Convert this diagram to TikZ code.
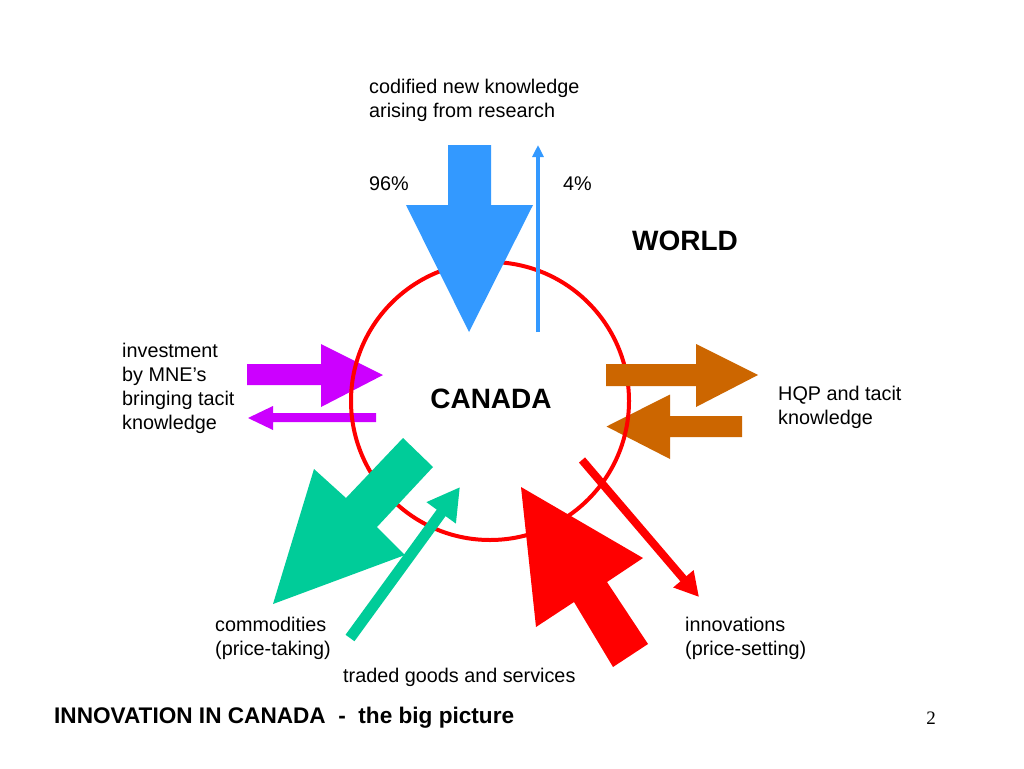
\documentclass[tikz,border=0pt]{standalone}
\usepackage{fontspec}
\setmainfont{Liberation Sans}
\newfontfamily\serifnum{Liberation Serif}
\usetikzlibrary{arrows.meta}
\definecolor{skyblue}{RGB}{51,153,255}
\definecolor{mneviolet}{RGB}{204,0,255}
\definecolor{hqporange}{RGB}{204,102,0}
\definecolor{tradegreen}{RGB}{0,204,153}
\definecolor{ringred}{RGB}{255,0,0}
\tikzset{
  lbl/.style={anchor=west, inner sep=0pt, align=left, font=\fontsize{19.8}{24}\selectfont},
  bigword/.style={anchor=center, inner sep=0pt, font=\fontsize{28}{32}\selectfont\bfseries}
}
\begin{document}
\begin{tikzpicture}[x=1pt,y=-1pt]
\useasboundingbox (0,0) rectangle (1024,768);
\fill[white] (0,0) rectangle (1024,768);

% magenta arrows (under the ring)
\fill[mneviolet] (247,364) -- (321,364) -- (321,344) -- (383,375) -- (321,407) -- (321,385) -- (247,385) -- cycle;
\fill[mneviolet] (376,413) -- (273,413) -- (273,406) -- (248,418) -- (273,430) -- (273,422) -- (376,422) -- cycle;
% small orange arrow (under the ring)
\fill[hqporange] (742,416) -- (670,416) -- (670,394.5) -- (606.5,426.5) -- (670,459) -- (670,437) -- (742,437) -- cycle;

% ring
\node[draw=ringred, line width=4pt, circle, minimum size=278pt, inner sep=0pt] (ring) at (490,401) {};

% big blue arrow
\fill[skyblue] (448,145) -- (491,145) -- (491,205) -- (533,205) -- (469,332) -- (406,205) -- (448,205) -- cycle;
% thin blue arrow
\coordinate (bluefrom) at (538,332);
\coordinate (blueto) at (538,145);
\draw[skyblue, line width=3.5pt, -{Triangle[length=12pt,width=11pt]}] (bluefrom) -- (blueto);

% big orange arrow
\fill[hqporange] (606,364) -- (696,364) -- (696,344) -- (758,375) -- (696,407) -- (696,386) -- (606,386) -- cycle;

% big green arrow
\fill[tradegreen] (403,438) -- (433,467) -- (377,527) -- (405,555) -- (273,604) -- (314,469) -- (346,498) -- cycle;
% thin green arrow
\coordinate (greenfrom) at (350,638);
\coordinate (greento) at (460,487);
\draw[tradegreen, line width=11pt, -{Triangle[length=32pt,width=34pt]}] (greenfrom) -- (greento);

% big red arrow
\fill[ringred] (521,487) -- (536,627) -- (574,602) -- (613,667) -- (648,644) -- (607,582) -- (643,558) -- cycle;
% thin red arrow
\coordinate (redfrom) at (582,460);
\coordinate (redto) at (699,597);
\draw[ringred, line width=8pt, -{Triangle[length=24pt,width=25pt]}] (redfrom) -- (redto);

% labels
\node[lbl] (codified) at (369,100) {codified new knowledge\\arising from research};
\node[lbl] (p96) at (369,184) {96\%};
\node[lbl] (p4) at (563,184) {4\%};
\node[bigword] (world) at (685,241) {WORLD};
\node[bigword] (canada) at (491,399) {CANADA};
\node[lbl] (mne) at (122,388) {investment\\by MNE’s\\bringing tacit\\knowledge};
\node[lbl] (hqp) at (778,407) {HQP and tacit\\knowledge};
\node[lbl] (commod) at (215,638) {commodities\\(price-taking)};
\node[lbl] (traded) at (343,677) {traded goods and services};
\node[lbl] (innov) at (685,638) {innovations\\(price-setting)};
\node[anchor=west, inner sep=0pt, font=\fontsize{22.6}{26}\selectfont\bfseries] (title) at (54,718) {INNOVATION IN CANADA\ \ -\ \ the big picture};
\node[anchor=center, inner sep=0pt, font=\fontsize{19}{22}\serifnum] (pagenum) at (931,718) {2};
\end{tikzpicture}
\end{document}
